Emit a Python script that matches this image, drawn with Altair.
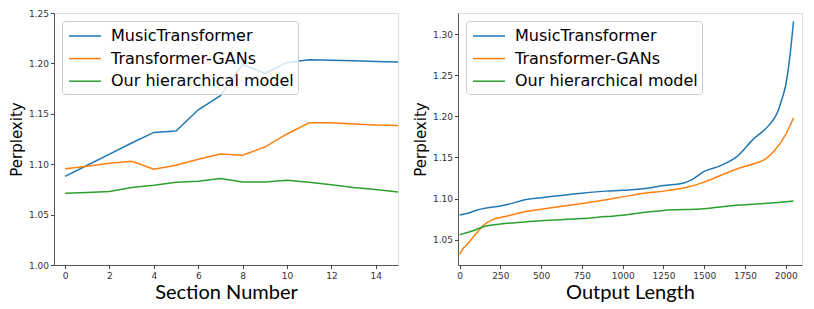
import altair as alt
import pandas as pd

SERIES = ["MusicTransformer", "Transformer-GANs", "Our hierarchical model"]
COLORS = ["#1f77b4", "#ff7f0e", "#2ca02c"]

# Left panel: perplexity by section number
sections = list(range(16))
music_left = [1.088, 1.099, 1.110, 1.121, 1.1315, 1.133, 1.154, 1.168, 1.199, 1.190,
              1.201, 1.2036, 1.2032, 1.2026, 1.2020, 1.2013]
gans_left = [1.0954, 1.098, 1.101, 1.103, 1.095, 1.099, 1.105, 1.110, 1.109, 1.117,
             1.130, 1.141, 1.141, 1.140, 1.139, 1.1385]
ours_left = [1.0712, 1.072, 1.073, 1.0768, 1.079, 1.082, 1.083, 1.0858, 1.0824, 1.0824,
             1.084, 1.082, 1.0795, 1.077, 1.075, 1.0725]

# Right panel: perplexity by output length
music_x = [0, 50, 100, 150, 250, 300, 400, 500, 750, 900, 1000, 1150, 1250, 1375, 1425,
           1500, 1600, 1700, 1800, 1900, 1950, 1975, 2000, 2025, 2048]
music_y = [1.080, 1.082, 1.0855, 1.088, 1.091, 1.093, 1.0985, 1.101, 1.1065, 1.109, 1.110,
           1.1125, 1.1158, 1.119, 1.123, 1.133, 1.140, 1.151, 1.172, 1.190, 1.205, 1.220,
           1.238, 1.272, 1.316]
gans_x = [0, 25, 50, 100, 150, 200, 250, 300, 400, 500, 750, 900, 1000, 1150, 1250, 1400,
          1500, 1600, 1700, 1800, 1875, 1925, 2000, 2048]
gans_y = [1.032, 1.040, 1.045, 1.057, 1.068, 1.074, 1.077, 1.079, 1.084, 1.087, 1.094,
          1.0985, 1.102, 1.107, 1.109, 1.114, 1.120, 1.128, 1.136, 1.142, 1.148, 1.157,
          1.178, 1.198]
ours_x = [0, 100, 150, 250, 400, 500, 750, 900, 1000, 1150, 1250, 1500, 1650, 1800, 1950, 2048]
ours_y = [1.056, 1.062, 1.066, 1.069, 1.0715, 1.073, 1.0755, 1.078, 1.0795, 1.0835, 1.0855,
          1.0875, 1.091, 1.093, 1.095, 1.097]

left_rows = []
for name, vals in zip(SERIES, [music_left, gans_left, ours_left]):
    for s, v in zip(sections, vals):
        left_rows.append({"model": name, "section": s, "ppl": v})
left_df = pd.DataFrame(left_rows)

right_rows = []
for name, xs, ys in zip(SERIES, [music_x, gans_x, ours_x], [music_y, gans_y, ours_y]):
    for x, y in zip(xs, ys):
        right_rows.append({"model": name, "length": x, "ppl": y})
right_df = pd.DataFrame(right_rows)

def color():
    return alt.Color(
        "model:N",
        scale=alt.Scale(domain=SERIES, range=COLORS),
        sort=SERIES,
        legend=alt.Legend(
            title=None,
            orient="top-left",
            offset=8,
            padding=4,
            fillColor="rgba(255,255,255,0.8)",
            strokeColor="#cccccc",
            cornerRadius=3,
            labelFont="DejaVu Sans",
            labelFontSize=16,
            labelColor="#000000",
            symbolType="M-1.6,0H1.6",
            symbolSize=400,
            symbolStrokeWidth=1.5,
            rowPadding=3.6,
            symbolOffset=8,
            labelOffset=15,
            labelLimit=400,
        ),
    )

def yaxis(vals):
    return alt.Axis(
        values=vals, format=".2f", title="Perplexity", titleFont="DejaVu Sans",
        titleFontSize=15, titleFontWeight="normal", titleColor="#000000", titlePadding=4,
        labelFont="DejaVu Sans", labelFontSize=9, labelColor="#333333", labelPadding=2,
        tickSize=3.5, tickColor="#444444", domainColor="#555555", grid=False,
    )

def xaxis(title, vals):
    return alt.Axis(
        values=vals, format="d", title=title, titleFont="Lato", titleFontSize=20,
        titleFontWeight="normal", titleColor="#000000", titleBaseline="alphabetic",
        titleY=33,
        labelFont="DejaVu Sans", labelFontSize=9, labelColor="#333333", labelPadding=3,
        tickSize=3.5, tickColor="#444444", domainColor="#555555", grid=False,
    )

left = alt.Chart(left_df).mark_line(strokeWidth=1.5, clip=True).encode(
    x=alt.X("section:Q", scale=alt.Scale(domain=[-0.5, 15], nice=False, zero=False),
            axis=xaxis("Section Number", list(range(0, 15, 2)))),
    y=alt.Y("ppl:Q", scale=alt.Scale(domain=[1.0, 1.25], nice=False, zero=False),
            axis=yaxis([1.00, 1.05, 1.10, 1.15, 1.20, 1.25])),
    color=color(),
).properties(width=344, height=252)

right = alt.Chart(right_df).mark_line(strokeWidth=1.5, clip=True, interpolate="monotone").encode(
    x=alt.X("length:Q", scale=alt.Scale(domain=[-10, 2100], nice=False, zero=False),
            axis=xaxis("Output Length", list(range(0, 2001, 250)))),
    y=alt.Y("ppl:Q", scale=alt.Scale(domain=[1.019, 1.326], nice=False, zero=False),
            axis=yaxis([1.05, 1.10, 1.15, 1.20, 1.25, 1.30])),
    color=color(),
).properties(width=344, height=252)

chart = alt.hconcat(left, right, spacing=13).resolve_legend(color="independent").resolve_scale(
    color="independent"
).properties(
    padding={"left": 0, "top": 0, "right": 0, "bottom": 0}
).configure_view(stroke="#555555", strokeWidth=1.2).configure(background="white")

chart.save("out.html", embed_options={"renderer": "svg", "actions": False})
